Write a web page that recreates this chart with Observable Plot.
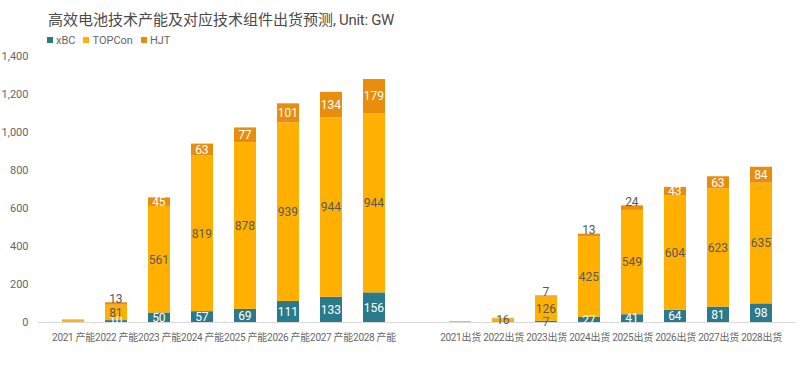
<!DOCTYPE html>
<html>
<head>
<meta charset="utf-8">
<script src="https://cdn.jsdelivr.net/npm/d3@7"></script>
<script src="https://cdn.jsdelivr.net/npm/@observablehq/plot@0.6"></script>
<style>
  html, body { margin: 0; padding: 0; background: #fff; }
  #wrap { position: relative; width: 800px; height: 369px; font-family: Roboto, "Noto Sans CJK SC", sans-serif; }
  #title { position: absolute; left: 48px; top: 8px; font-size: 15px; color: #4a4a4a; font-family: "Noto Sans CJK SC", Roboto, sans-serif; white-space: nowrap; }
  #title .lat { font-family: Roboto, sans-serif; letter-spacing: -0.3px; }
  #legend { position: absolute; left: 47px; top: 34px; font-size: 11px; color: #666; display: flex; gap: 8px; white-space: nowrap; }
  #legend span.sw { display: inline-block; width: 6px; height: 6px; margin-right: 3px; vertical-align: 1px; }
  #chart svg [aria-label="x-axis tick label"] text { letter-spacing: -0.3px; }
</style>
</head>
<body>
<div id="wrap">
  <div id="chart"></div>
  <div id="title">高效电池技术产能及对应技术组件出货预测<span class="lat">, Unit: GW</span></div>
  <div id="legend"></div>
</div>
<script>
const categories = ["2021 产能","2022 产能","2023 产能","2024 产能","2025 产能","2026 产能","2027 产能","2028 产能"," ",
  "2021出货","2022出货","2023出货","2024出货","2025出货","2026出货","2027出货","2028出货"];
const seriesNames = ["xBC","TOPCon","HJT"];
const seriesColors = ["#2b7a8b","#ffb000","#e88d0c"];
const xBC    = [2, 10, 50, 57, 69, 111, 133, 156, 0, 1, 3, 7, 27, 41, 64, 81, 98];
const TOPCon = [8, 81, 561, 819, 878, 939, 944, 944, 0, 3, 16, 126, 425, 549, 604, 623, 635];
const HJT    = [3, 13, 45, 63, 77, 101, 134, 179, 0, 1, 3, 7, 13, 24, 43, 63, 84];
// which bars carry value labels
const labelled = [false, true, true, true, true, true, true, true, false, false, false, true, true, true, true, true, true];
const partialLabels = {"2022出货": ["TOPCon"]};
const yTicks = [0, 200, 400, 600, 800, 1000, 1200, 1400];

const valuesBy = {xBC, TOPCon, HJT};
const data = [];
const inLabels = [];
const topLabels = [];
categories.forEach((c, i) => {
  let base = 0;
  const total = xBC[i] + TOPCon[i] + HJT[i];
  seriesNames.forEach(s => {
    const v = valuesBy[s][i];
    data.push({cat: c, series: s, value: v});
    const show = labelled[i] || (partialLabels[c] && partialLabels[c].includes(s));
    if (show && v > 0) {
      if (s === "HJT" && v < 30) {
        topLabels.push({cat: c, y: total, fill: "#595959", text: String(v)});
      } else {
        let fill;
        if (s === "xBC") fill = v >= 10 ? "#ffffff" : "#666666";
        else if (s === "TOPCon") fill = "#595959";
        else fill = "#ffffff";
        inLabels.push({cat: c, y: base + v / 2, fill, text: String(v)});
      }
    }
    base += v;
  });
});

// legend
const leg = document.getElementById("legend");
seriesNames.forEach((s, i) => {
  const d = document.createElement("div");
  d.innerHTML = `<span class="sw" style="background:${seriesColors[i]}"></span>${s}`;
  leg.appendChild(d);
});

function build(half) {
  return Plot.plot({
    width: 800,
    height: 369,
    marginTop: 56,
    marginLeft: 38,
    marginRight: 4,
    marginBottom: 47,
    style: {fontFamily: 'Roboto, "Noto Sans CJK SC", sans-serif', fontSize: "11px", color: "#666", background: "transparent"},
    x: {domain: categories, padding: 0.5, label: null},
    y: {domain: [0, 1400], label: null},
    color: {domain: seriesNames, range: seriesColors},
    marks: [
      Plot.axisX({tickSize: 0, tickPadding: 11, fontSize: 10, label: null}),
      Plot.axisY({ticks: yTicks, tickFormat: d3.format(","), tickSize: 0, tickPadding: 10, label: null}),
      Plot.ruleY([0], {stroke: "#d9d9d9"}),
      Plot.barY(data, {x: "cat", y: "value", fill: "series", z: "series", order: seriesNames}),
      Plot.text(inLabels, {x: "cat", y: "y", dx: half, text: "text", fill: "fill", fontSize: 12, fontFamily: "Roboto, sans-serif"}),
      Plot.text(topLabels, {x: "cat", y: "y", dx: half, dy: -4, text: "text", fill: "fill", fontSize: 12, fontFamily: "Roboto, sans-serif"})
    ]
  });
}
// measure where the text lands relative to the bars, then shift onto the bar centres
const probe = build(0);
const host = document.getElementById("chart");
host.appendChild(probe);
const txt = probe.querySelectorAll('g[aria-label="text"]')[0].querySelector("text");
let shift = 0;
if (txt) {
  const tb = txt.getBoundingClientRect();
  const rects = probe.querySelectorAll('g[aria-label="bar"] rect');
  let target = null;
  rects.forEach(r => { const b = r.getBoundingClientRect(); if (Math.abs((b.left + b.width / 2) - (tb.left + tb.width / 2)) < 40 && !target) target = b; });
  if (target) shift = (target.left + target.width / 2) - (tb.left + tb.width / 2);
}
host.removeChild(probe);
const plot = build(shift);
host.appendChild(plot);
</script>
</body>
</html>
